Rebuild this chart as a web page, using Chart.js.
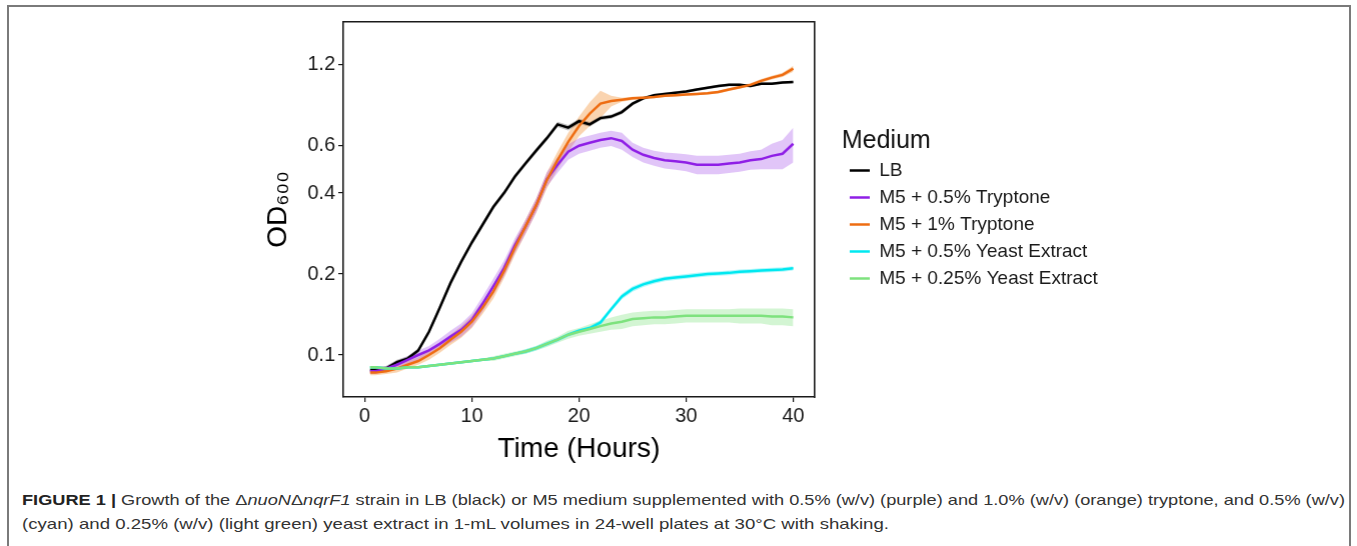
<!DOCTYPE html>
<html>
<head>
<meta charset="utf-8">
<script src="https://cdn.jsdelivr.net/npm/chart.js@4.4.1/dist/chart.umd.min.js"></script>
<style>
  body { margin: 0; background: #fff; font-family: "Liberation Sans", Arial, sans-serif; }
  #frame { position: absolute; left: 7px; top: 5px; width: 1340px; height: 560px; border: 2px solid #7a7a7a; border-bottom: none; }
  #wrap { position: absolute; left: 0; top: 0; width: 1140px; height: 480px; }
  .capline { position: absolute; left: 22px; font-size: 15px; line-height: 24px; color: #333; white-space: nowrap; transform-origin: 0 0; }
  .capline b { color: #222; }
</style>
</head>
<body>
<div id="frame"></div>
<div id="wrap"><canvas id="growthChart"></canvas></div>
<div class="capline" id="capLine1" style="top:488px"><b>FIGURE 1 |</b> Growth of the Δ<i>nuoN</i>Δ<i>nqrF1</i> strain in LB (black) or M5 medium supplemented with 0.5% (w/v) (purple) and 1.0% (w/v) (orange) tryptone, and 0.5% (w/v)</div>
<div class="capline" id="capLine2" style="top:512px">(cyan) and 0.25% (w/v) (light green) yeast extract in 1-mL volumes in 24-well plates at 30°C with shaking.</div>
<script>
// time points (hours)
var hours = [0.5, 1, 2, 3, 4, 5, 6, 7, 8, 9, 10, 11, 12, 13, 14, 15, 16, 17, 18, 19, 20,
    21, 22, 23, 24, 25, 26, 27, 28, 29, 30, 31, 32, 33, 34, 35, 36, 37, 38, 39, 40];

// OD600 means
var lbOD = [0.088, 0.088, 0.089, 0.094, 0.097, 0.104, 0.122, 0.150, 0.185, 0.222, 0.262, 0.305, 0.355, 0.400, 0.460,
    0.515, 0.575, 0.640, 0.720, 0.700, 0.740, 0.720, 0.760, 0.770, 0.800, 0.860, 0.900, 0.925, 0.935, 0.945,
    0.955, 0.970, 0.985, 1.000, 1.010, 1.010, 1.000, 1.020, 1.020, 1.030, 1.035];
var tryp05OD = [0.087, 0.087, 0.089, 0.092, 0.096, 0.100, 0.104, 0.110, 0.117, 0.124, 0.135, 0.155, 0.180, 0.210, 0.255,
    0.300, 0.360, 0.450, 0.510, 0.570, 0.600, 0.615, 0.630, 0.640, 0.625, 0.580, 0.555, 0.540, 0.530, 0.525,
    0.520, 0.510, 0.510, 0.510, 0.515, 0.520, 0.530, 0.535, 0.550, 0.560, 0.610];
var tryp1OD = [0.086, 0.086, 0.087, 0.089, 0.092, 0.095, 0.100, 0.106, 0.114, 0.122, 0.133, 0.150, 0.172, 0.205, 0.250,
    0.300, 0.360, 0.447, 0.530, 0.620, 0.710, 0.790, 0.860, 0.880, 0.890, 0.900, 0.905, 0.910, 0.920, 0.925,
    0.930, 0.935, 0.940, 0.950, 0.970, 0.990, 1.010, 1.045, 1.075, 1.100, 1.160];
var yeast05OD = [0.090, 0.090, 0.089, 0.089, 0.090, 0.090, 0.091, 0.092, 0.093, 0.094, 0.095, 0.096, 0.097, 0.099, 0.101,
    0.103, 0.106, 0.110, 0.114, 0.119, 0.123, 0.126, 0.132, 0.148, 0.165, 0.176, 0.183, 0.188, 0.192, 0.194,
    0.196, 0.198, 0.200, 0.201, 0.202, 0.204, 0.205, 0.206, 0.207, 0.208, 0.210];
var yeast025OD = [0.090, 0.090, 0.089, 0.089, 0.090, 0.090, 0.091, 0.092, 0.093, 0.094, 0.095, 0.096, 0.097, 0.099, 0.101,
    0.103, 0.106, 0.110, 0.114, 0.119, 0.122, 0.125, 0.128, 0.131, 0.133, 0.136, 0.137, 0.138, 0.138, 0.139,
    0.140, 0.140, 0.140, 0.140, 0.140, 0.140, 0.140, 0.140, 0.139, 0.139, 0.138];

// half-width of the shaded ribbons
var lbSe = [0.002, 0.002, 0.002, 0.002, 0.002, 0.002, 0.003, 0.004, 0.005, 0.005, 0.006, 0.007, 0.008, 0.009, 0.010,
    0.011, 0.012, 0.014, 0.016, 0.016, 0.016, 0.015, 0.014, 0.014, 0.014, 0.013, 0.013, 0.012, 0.012, 0.012,
    0.012, 0.012, 0.012, 0.012, 0.012, 0.012, 0.012, 0.012, 0.012, 0.012, 0.012];
var tryp05Se = [0.002, 0.002, 0.002, 0.003, 0.003, 0.004, 0.004, 0.005, 0.006, 0.007, 0.008, 0.010, 0.012, 0.014, 0.016,
    0.018, 0.022, 0.028, 0.034, 0.038, 0.040, 0.040, 0.040, 0.042, 0.045, 0.035, 0.035, 0.035, 0.036, 0.037,
    0.038, 0.040, 0.040, 0.040, 0.040, 0.040, 0.042, 0.045, 0.060, 0.070, 0.090];
var tryp1Se = [0.002, 0.002, 0.002, 0.003, 0.003, 0.003, 0.004, 0.004, 0.005, 0.006, 0.007, 0.008, 0.010, 0.012, 0.015,
    0.018, 0.022, 0.030, 0.040, 0.050, 0.060, 0.080, 0.100, 0.040, 0.015, 0.012, 0.010, 0.010, 0.010, 0.010,
    0.010, 0.010, 0.010, 0.012, 0.012, 0.014, 0.015, 0.016, 0.018, 0.020, 0.030];
var yeast05Se = [0.001, 0.001, 0.001, 0.001, 0.001, 0.001, 0.001, 0.001, 0.001, 0.001, 0.001, 0.001, 0.001, 0.001, 0.001,
    0.002, 0.002, 0.002, 0.002, 0.002, 0.002, 0.002, 0.003, 0.003, 0.004, 0.004, 0.004, 0.004, 0.004, 0.004,
    0.004, 0.004, 0.004, 0.004, 0.004, 0.004, 0.004, 0.004, 0.004, 0.004, 0.004];
var yeast025Se = [0.001, 0.001, 0.001, 0.001, 0.001, 0.001, 0.001, 0.001, 0.001, 0.001, 0.001, 0.001, 0.002, 0.002, 0.002,
    0.002, 0.002, 0.003, 0.003, 0.004, 0.004, 0.005, 0.006, 0.007, 0.008, 0.008, 0.008, 0.008, 0.008, 0.008,
    0.008, 0.008, 0.008, 0.008, 0.008, 0.009, 0.009, 0.009, 0.010, 0.010, 0.010];

var mediumLabels = ['LB', 'M5 + 0.5% Tryptone', 'M5 + 1% Tryptone', 'M5 + 0.5% Yeast Extract', 'M5 + 0.25% Yeast Extract'];
var xTicks = [0, 10, 20, 30, 40];
var yTicks = [0.1, 0.2, 0.4, 0.6, 1.2];

var lineColors = ['#000000', '#8f1fe6', '#ee6d12', '#00e8f0', '#7ee27e'];
var bandColors = ['rgba(0,0,0,0.25)', 'rgba(170,90,235,0.35)', 'rgba(245,160,80,0.45)', 'rgba(0,230,240,0.3)', 'rgba(130,225,130,0.35)'];

var means = [lbOD, tryp05OD, tryp1OD, yeast05OD, yeast025OD];
var spreads = [lbSe, tryp05Se, tryp1Se, yeast05Se, yeast025Se];

function pts(arr, se, sign) {
    return hours.map(function (h, i) { return { x: h, y: arr[i] + sign * (se ? se[i] : 0) }; });
}

var datasets = [];
for (var i = 0; i < mediumLabels.length; i++) {
    datasets.push({
        label: 'band', isBand: true, data: pts(means[i], spreads[i], -1),
        borderWidth: 0, pointRadius: 0, fill: false, order: 20 + i
    });
    datasets.push({
        label: 'band', isBand: true, data: pts(means[i], spreads[i], 1),
        borderWidth: 0, pointRadius: 0, fill: '-1', backgroundColor: bandColors[i], order: 20 + i
    });
}
for (var j = 0; j < mediumLabels.length; j++) {
    datasets.push({
        label: mediumLabels[j], data: pts(means[j], null, 0),
        borderColor: lineColors[j], backgroundColor: lineColors[j],
        borderWidth: 2.5, pointRadius: 0, fill: false, tension: 0, order: 5 - j
    });
}

var axisColor = '#1a1a1a';
var ctx = document.getElementById('growthChart').getContext('2d');
var growthChart = new Chart(ctx, {
    type: 'line',
    data: { datasets: datasets },
    options: {
        responsive: true,
        maintainAspectRatio: false,
        animation: false,
        devicePixelRatio: 1,
        layout: { padding: { left: 253, top: 22, right: 47, bottom: 13 } },
        scales: {
            x: {
                type: 'linear', min: -2, max: 42,
                afterBuildTicks: function (s) { s.ticks = xTicks.map(function (v) { return { value: v }; }); },
                afterFit: function (s) { s.height = 70; },
                grid: { drawOnChartArea: false, drawTicks: true, tickLength: 5, color: axisColor, lineWidth: 1.2 },
                border: { display: true, color: axisColor, width: 1.6 },
                ticks: { font: { family: 'Liberation Sans', size: 20 }, color: axisColor, padding: 2, maxRotation: 0 },
                title: { display: true, text: 'Time (Hours)', font: { family: 'Liberation Sans', size: 28 }, color: '#000', padding: { top: 0, bottom: 1 } }
            },
            y: {
                type: 'logarithmic', min: 0.0698, max: 1.73,
                afterBuildTicks: function (s) { s.ticks = yTicks.map(function (v) { return { value: v }; }); },
                afterFit: function (s) { s.width = 90; },
                grid: { drawOnChartArea: false, drawTicks: true, tickLength: 5, color: axisColor, lineWidth: 1.2 },
                border: { display: true, color: axisColor, width: 1.6 },
                ticks: { font: { family: 'Liberation Sans', size: 20 }, color: axisColor, padding: 3,
                    callback: function (v) { return String(v); } },
                title: { display: true, text: 'OD₆₀₀', font: { family: 'Liberation Sans', size: 28 }, color: '#000', padding: { top: 8, bottom: 0 } }
            },
            xTop: {
                type: 'linear', position: 'top', display: true,
                grid: { display: false }, ticks: { display: false },
                border: { display: true, color: axisColor, width: 1.6 },
                afterFit: function (s) { s.height = 0; }
            },
            yRight: {
                type: 'linear', position: 'right', display: true,
                grid: { display: false }, ticks: { display: false },
                border: { display: true, color: axisColor, width: 1.6 },
                afterFit: function (s) { s.width = 27; }
            }
        },
        plugins: {
            tooltip: { enabled: false },
            legend: {
                position: 'right',
                align: 'center',
                fullSize: false,
                maxWidth: 320,
                title: { display: true, text: 'Medium', position: 'start', color: '#111',
                    font: { family: 'Liberation Sans', size: 25 }, padding: { top: 6, bottom: -6 } },
                labels: {
                    usePointStyle: true, pointStyle: 'line', pointStyleWidth: 20,
                    font: { family: 'Liberation Sans', size: 19 }, color: '#1a1a1a', padding: 8,
                    filter: function (item, data) { return !data.datasets[item.datasetIndex].isBand; },
                    sort: function (a, b) { return a.datasetIndex - b.datasetIndex; }
                }
            }
        }
    }
});

// keep the plot panel's right edge where the figure has it
var wrap = document.getElementById('wrap');
var dx = 814 - growthChart.chartArea.right;
if (Math.abs(dx) > 0.5) {
    wrap.style.width = (wrap.offsetWidth + dx) + 'px';
    growthChart.resize();
}

// caption lines: stretch to the widths they have in the figure
function fitLine(id, w) {
    var el = document.getElementById(id);
    el.style.transform = 'scaleX(' + (w / el.getBoundingClientRect().width) + ')';
}
fitLine('capLine1', 1323);
fitLine('capLine2', 867);
</script>
</body>
</html>
